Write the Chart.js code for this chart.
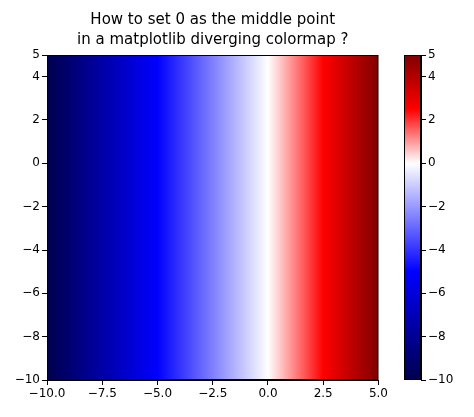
<!DOCTYPE html>
<html>
<head>
<meta charset="utf-8">
<script src="https://cdn.jsdelivr.net/npm/chart.js@4/dist/chart.umd.min.js"></script>
<style>
  body { margin: 0; background: #fff; }
  #wrap { position: relative; width: 474px; height: 417px; }
  canvas { position: absolute; top: 0; }
</style>
</head>
<body>
<div id="wrap">
  <canvas id="main" width="390" height="417" style="left:0"></canvas>
  <canvas id="cbar" width="94" height="417" style="left:380px"></canvas>
</div>
<script>
// image extent (data = x value, y is constant)
const xExtent = [-10, 5];
const yExtent = [-10, 5];
// seismic colormap stops, centred at 0 (two-slope norm)
const cmapValues = [-10, -5, 0, 2.5, 5];
const cmapColors = ['rgb(0,0,77)', 'rgb(0,0,255)', 'rgb(255,255,255)', 'rgb(255,0,0)', 'rgb(128,0,0)'];
const titleLines = ['How to set 0 as the middle point', 'in a matplotlib diverging colormap ?'];

const FONT = { family: 'DejaVu Sans', size: 12 };
const fmtMinus = v => String(v).replace('-', '\u2212');

function makeGradient(ctx, x0, y0, x1, y1) {
  const g = ctx.createLinearGradient(x0, y0, x1, y1);
  const lo = cmapValues[0], hi = cmapValues[cmapValues.length - 1];
  cmapValues.forEach((v, i) => g.addColorStop((v - lo) / (hi - lo), cmapColors[i]));
  return g;
}

const titlePlugin = {
  id: 'twoLineTitle',
  afterDraw(chart) {
    const c = chart.ctx;
    c.save();
    c.fillStyle = '#000';
    c.font = '15px "DejaVu Sans"';
    c.textAlign = 'center';
    c.textBaseline = 'middle';
    const cx = (chart.chartArea.left + chart.chartArea.right) / 2;
    c.fillText(titleLines[0], cx, 20);
    c.fillText(titleLines[1], cx, 40);
    c.restore();
  }
};

function axisOpts(extra) {
  return Object.assign({
    type: 'linear',
    border: { display: true, color: '#000', width: 1 },
    grid: { display: true, drawOnChartArea: false, tickLength: 5, tickColor: '#000' },
    ticks: { color: '#000', font: FONT, padding: 2 }
  }, extra);
}

new Chart(document.getElementById('main'), {
  type: 'line',
  data: {
    datasets: [{
      data: [{ x: xExtent[0], y: yExtent[1] }, { x: xExtent[1], y: yExtent[1] }],
      fill: 'start',
      pointRadius: 0,
      borderWidth: 0,
      backgroundColor: ctx => {
        const a = ctx.chart.chartArea;
        if (!a) return 'transparent';
        return makeGradient(ctx.chart.ctx, a.left, 0, a.right, 0);
      }
    }]
  },
  options: {
    responsive: false,
    animation: false,
    devicePixelRatio: 1,
    layout: { padding: { top: 55, right: 11, left: 0, bottom: 0 } },
    plugins: { legend: { display: false }, tooltip: { enabled: false } },
    scales: {
      x: axisOpts({
        min: xExtent[0], max: xExtent[1],
        ticks: { color: '#000', font: FONT, stepSize: 2.5, maxRotation: 0, padding: 2,
                 callback: v => fmtMinus(v.toFixed(1)) },
        afterFit: s => { s.height = 37; }
      }),
      y: axisOpts({
        min: yExtent[0], max: yExtent[1],
        ticks: { color: '#000', font: FONT, stepSize: 2, padding: 2, callback: v => fmtMinus(v) },
        afterFit: s => { s.width = 47; }
      })
    }
  },
  plugins: [titlePlugin, {
    id: 'frame',
    afterDraw(chart) {
      const a = chart.chartArea, c = chart.ctx;
      c.save();
      c.strokeStyle = '#000';
      c.lineWidth = 1;
      c.strokeRect(a.left + 0.5, a.top + 0.5, a.width - 1, a.height - 1);
      c.restore();
    }
  }]
});

new Chart(document.getElementById('cbar'), {
  type: 'line',
  data: {
    datasets: [{
      data: [{ x: 0, y: yExtent[1] }, { x: 1, y: yExtent[1] }],
      fill: 'start',
      pointRadius: 0,
      borderWidth: 0,
      backgroundColor: ctx => {
        const a = ctx.chart.chartArea;
        if (!a) return 'transparent';
        return makeGradient(ctx.chart.ctx, 0, a.bottom, 0, a.top);
      }
    }]
  },
  options: {
    responsive: false,
    animation: false,
    devicePixelRatio: 1,
    layout: { padding: { top: 55, bottom: 37, left: 24, right: 0 } },
    plugins: { legend: { display: false }, tooltip: { enabled: false } },
    scales: {
      x: { type: 'linear', min: 0, max: 1, display: false },
      y: axisOpts({
        position: 'right',
        min: xExtent[0], max: xExtent[1],
        ticks: { color: '#000', font: FONT, stepSize: 2, padding: 2, callback: v => fmtMinus(v) },
        afterFit: s => { s.width = 53; }
      })
    }
  },
  plugins: [{
    id: 'frame',
    afterDraw(chart) {
      const a = chart.chartArea, c = chart.ctx;
      c.save();
      c.strokeStyle = '#000';
      c.lineWidth = 1;
      c.strokeRect(a.left + 0.5, a.top + 0.5, a.width - 1, a.height - 1);
      c.restore();
    }
  }]
});
</script>
</body>
</html>
